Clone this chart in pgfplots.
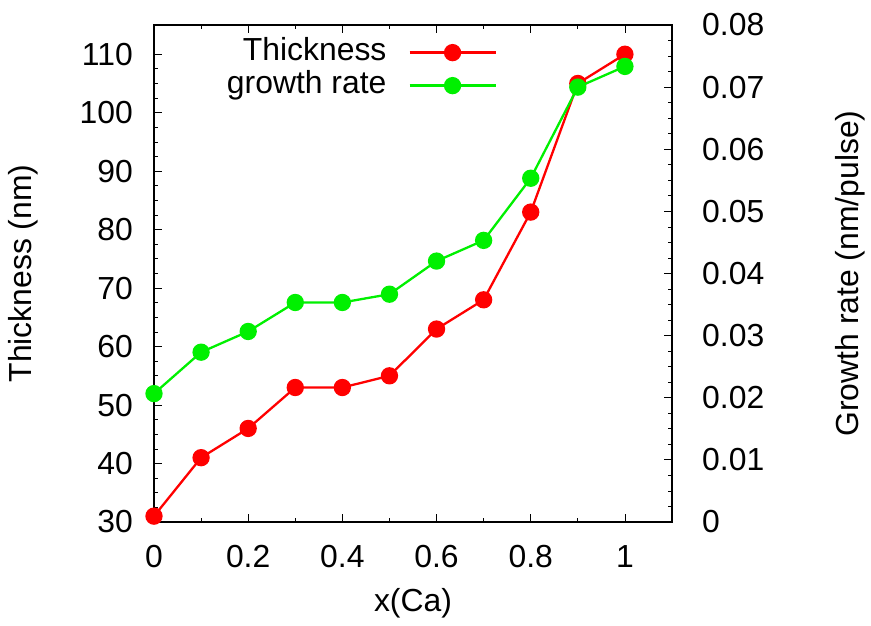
\documentclass[border=0pt]{standalone}
\usepackage{fontspec}
\setmainfont{Liberation Sans}
\usepackage{pgfplots}
\pgfplotsset{compat=1.18}
\definecolor{gpred}{HTML}{FF0000}
\definecolor{gpgreen}{HTML}{00F000}

\pgfplotsset{
  gpbase/.style={
    scale only axis, width=518bp, height=497bp,
    xmin=0, xmax=1.1,
    tick align=inside,
    major tick length=8bp, minor tick length=4bp,
    every tick/.style={black, line width=0.8bp},
    axis line style={line width=1.4bp},
    /pgf/number format/assume math mode=true,
    /pgf/number format/fixed,
    tick label style={font=\fontsize{32}{38}\selectfont, inner sep=0pt},
    label style={font=\fontsize{32}{38}\selectfont},
  },
}

\begin{document}
\begin{tikzpicture}
% left axis: thickness
\begin{axis}[gpbase, name=ax,
  ymin=30, ymax=115,
  xtick={0,0.2,0.4,0.6,0.8,1}, minor x tick num=1,
  ytick={30,40,50,60,70,80,90,100,110}, minor y tick num=3,
  xtick pos=both, ytick pos=left,
  xticklabel style={yshift=-23bp},
  yticklabel style={xshift=-21bp},
  xlabel={x(Ca)}, ylabel={Thickness (nm)},
  xlabel style={at={(rel axis cs:0.5,-0.163)}, anchor=center},
  ylabel style={at={(rel axis cs:-0.2529,0.5)}, anchor=center},
]
\addplot[gpred, line width=2.3bp, mark=*, mark size=7.5bp] coordinates {
  (0,31) (0.1,41) (0.2,46) (0.3,53) (0.4,53) (0.5,55)
  (0.6,63) (0.7,68) (0.8,83) (0.9,105) (1,110)};
\end{axis}
% right axis: growth rate
\begin{axis}[gpbase,
  axis x line=none, axis y line*=right,
  ymin=0, ymax=0.08,
  ytick={0,0.01,0.02,0.03,0.04,0.05,0.06,0.07,0.08}, minor y tick num=3,
  scaled y ticks=false,
  yticklabel style={/pgf/number format/precision=2, xshift=30bp},
  ylabel={Growth rate (nm/pulse)},
  ylabel style={at={(rel axis cs:1.3436,0.5)}, anchor=center},
  legend plot pos=right, legend cell align=right,
  legend image code/.code={\draw[mark repeat=2,mark phase=2,#1] plot coordinates {(0bp,0bp) (43bp,0bp) (86bp,0bp)};},
  legend style={draw=none, fill=none, at={(rel axis cs:0.662,0.977)}, anchor=north east,
    inner sep=0pt, row sep=1bp, column sep=22bp,
    font=\fontsize{32}{38}\selectfont,
    nodes={inner sep=0pt, text height=24bp, text depth=8bp}},
]
\addlegendimage{gpred, line width=2.3bp, mark=*, mark size=7.5bp}
\addlegendentry{Thickness}
\addplot[gpgreen, line width=2.3bp, mark=*, mark size=7.5bp] coordinates {
  (0,0.020667) (0.1,0.027333) (0.2,0.030667) (0.3,0.035333) (0.4,0.035333) (0.5,0.036667)
  (0.6,0.042) (0.7,0.045333) (0.8,0.055333) (0.9,0.07) (1,0.073333)};
\addlegendentry{growth rate}
\end{axis}
\pgfresetboundingbox
\path[use as bounding box] ([shift={(-154bp,-104bp)}]ax.south west) rectangle ([shift={(199bp,25bp)}]ax.north east);
\end{tikzpicture}
\end{document}
